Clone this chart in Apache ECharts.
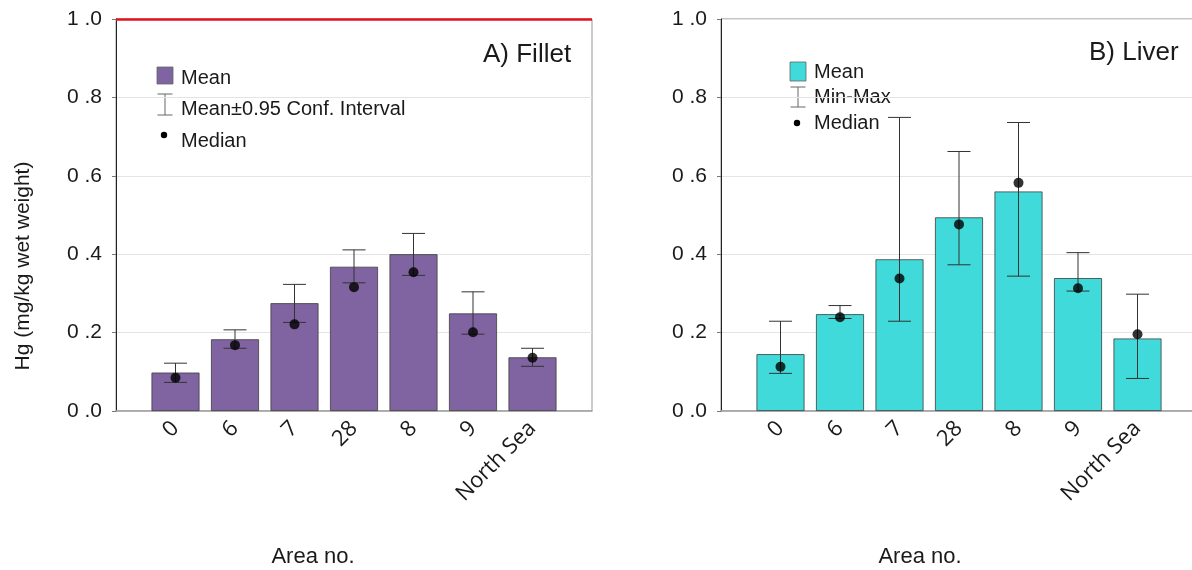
<!DOCTYPE html>
<html>
<head>
<meta charset="utf-8">
<script src="https://cdn.jsdelivr.net/npm/echarts@6/dist/echarts.min.js"></script>
<style>
html,body{margin:0;padding:0;background:#fff;}
#c{width:1192px;height:570px;}
</style>
</head>
<body>
<div id="c"></div>
<script>
const categories = ['0', '6', '7', '28', '8', '9', 'North Sea'];
const filletMean   = [0.098, 0.183, 0.275, 0.368, 0.400, 0.249, 0.137];
const filletCILow  = [0.073, 0.160, 0.226, 0.327, 0.346, 0.196, 0.114];
const filletCIHigh = [0.122, 0.207, 0.323, 0.411, 0.453, 0.304, 0.160];
const filletMedian = [0.085, 0.168, 0.221, 0.316, 0.354, 0.201, 0.136];
const liverMean    = [0.145, 0.247, 0.387, 0.494, 0.560, 0.339, 0.185];
const liverMin     = [0.096, 0.236, 0.229, 0.373, 0.344, 0.306, 0.083];
const liverMax     = [0.229, 0.269, 0.749, 0.662, 0.736, 0.404, 0.298];
const liverMedian  = [0.113, 0.239, 0.338, 0.476, 0.582, 0.313, 0.196];
const yTickLabels  = ['0 .0', '0 .2', '0 .4', '0 .6', '0 .8', '1 .0'];
const limitValue = 1.0;

const purple = '#8064a2';
const cyan = '#40dada';
const txt = '#1a1a1a';
const axisCats = [''].concat(categories, ['']);

function pairs(arr) { return arr.map((v, i) => [i + 1, v]); }
function ranges(lo, hi) { return lo.map((v, i) => [i + 1, v, hi[i]]); }

function errRender(params, api) {
  const x = api.value(0);
  const lo = api.coord([x, api.value(1)]);
  const hi = api.coord([x, api.value(2)]);
  const half = 11.5;
  const st = { stroke: '#333', lineWidth: 1 };
  return {
    type: 'group',
    children: [
      { type: 'line', shape: { x1: lo[0], y1: lo[1], x2: hi[0], y2: hi[1] }, style: st },
      { type: 'line', shape: { x1: lo[0] - half, y1: lo[1], x2: lo[0] + half, y2: lo[1] }, style: st },
      { type: 'line', shape: { x1: hi[0] - half, y1: hi[1], x2: hi[0] + half, y2: hi[1] }, style: st }
    ]
  };
}

function xAxisFor(gi) {
  return {
    type: 'category', gridIndex: gi, data: axisCats, boundaryGap: false,
    axisLine: { lineStyle: { color: '#a0a0a0', width: 1.5 } },
    axisTick: { inside: true, length: 5, lineStyle: { color: '#888' },
      interval: (idx) => idx > 0 && idx < axisCats.length - 1 },
    axisLabel: { interval: 0, rotate: 45, margin: 14, fontSize: 22,
      fontFamily: 'Open Sans', color: txt },
    splitLine: { show: false }
  };
}
function yAxisFor(gi) {
  return {
    type: 'value', gridIndex: gi, min: 0, max: 1, interval: 0.2,
    axisLine: { show: true, lineStyle: { color: '#222', width: 1 } },
    axisTick: { show: true, length: 4, lineStyle: { color: '#777' } },
    axisLabel: { fontSize: 21, fontFamily: 'Liberation Sans', color: txt, margin: 14,
      formatter: (v) => yTickLabels[Math.round(v / 0.2)] },
    splitLine: { show: true, lineStyle: { color: '#e4e4e4', width: 1 } }
  };
}

const chart = echarts.init(document.getElementById('c'), null, { renderer: 'canvas' });
const F = 'Liberation Sans';

function legendGraphics(x0, sqTop, sqBot, color, labels, ys, errTop, errBot, dotX, dotY) {
  const cx = x0 + 8;
  return [
    { type: 'rect', shape: { x: x0, y: sqTop, width: 16, height: sqBot - sqTop },
      style: { fill: color, stroke: '#666', lineWidth: 0.8 } },
    { type: 'line', shape: { x1: cx, y1: errTop, x2: cx, y2: errBot }, style: { stroke: '#666', lineWidth: 1 } },
    { type: 'line', shape: { x1: cx - 7.5, y1: errTop, x2: cx + 7.5, y2: errTop }, style: { stroke: '#666', lineWidth: 1 } },
    { type: 'line', shape: { x1: cx - 7.5, y1: errBot, x2: cx + 7.5, y2: errBot }, style: { stroke: '#666', lineWidth: 1 } },
    { type: 'circle', shape: { cx: dotX, cy: dotY, r: 3.2 }, style: { fill: '#000' } },
    { type: 'text', x: x0 + 24, y: ys[0], style: { text: labels[0], fontSize: 20, fontFamily: F, fill: txt, verticalAlign: 'middle' } },
    { type: 'text', x: x0 + 24, y: ys[1], style: { text: labels[1], fontSize: 20, fontFamily: F, fill: txt, verticalAlign: 'middle' } },
    { type: 'text', x: x0 + 24, y: ys[2], style: { text: labels[2], fontSize: 20, fontFamily: F, fill: txt, verticalAlign: 'middle' } }
  ];
}

const option = {
  animation: false,
  backgroundColor: '#fff',
  grid: [
    { left: 116, top: 19, width: 476, height: 392, show: true, borderColor: '#999', borderWidth: 1, outerBoundsMode: 'none', containLabel: false },
    { left: 721, top: 19, width: 476, height: 392, show: true, borderColor: '#888', borderWidth: 1, outerBoundsMode: 'none', containLabel: false }
  ],
  xAxis: [xAxisFor(0), xAxisFor(1)],
  yAxis: [yAxisFor(0), yAxisFor(1)],
  series: [
    { type: 'bar', xAxisIndex: 0, yAxisIndex: 0, data: pairs(filletMean), barWidth: 48,
      itemStyle: { color: purple, borderColor: '#3c3c3c', borderWidth: 0.8 },
      markLine: { silent: true, symbol: 'none', label: { show: false },
        lineStyle: { color: '#e3141c', width: 2.5, type: 'solid' }, data: [{ yAxis: limitValue }] } },
    { type: 'custom', xAxisIndex: 0, yAxisIndex: 0, data: ranges(filletCILow, filletCIHigh),
      renderItem: errRender, z: 5 },
    { type: 'scatter', xAxisIndex: 0, yAxisIndex: 0, data: pairs(filletMedian), symbolSize: 10,
      itemStyle: { color: '#000' }, z: 6 },
    { type: 'bar', xAxisIndex: 1, yAxisIndex: 1, data: pairs(liverMean), barWidth: 48,
      itemStyle: { color: cyan, borderColor: '#3c3c3c', borderWidth: 0.8 } },
    { type: 'custom', xAxisIndex: 1, yAxisIndex: 1, data: ranges(liverMin, liverMax),
      renderItem: errRender, z: 5 },
    { type: 'scatter', xAxisIndex: 1, yAxisIndex: 1, data: pairs(liverMedian), symbolSize: 10,
      itemStyle: { color: '#000' }, z: 6 }
  ],
  graphic: [].concat(
    legendGraphics(157, 67, 84, purple, ['Mean', 'Mean\u00b10.95 Conf. Interval', 'Median'], [78, 109, 141], 94, 115, 164, 135),
    legendGraphics(790, 62, 81, cyan, ['Mean', 'Min-Max', 'Median'], [72, 97, 123], 87, 107, 797, 123),
    [
      { type: 'text', x: 483, y: 55, style: { text: 'A) Fillet', fontSize: 26, fontFamily: F, fill: txt, verticalAlign: 'middle' } },
      { type: 'text', x: 1089, y: 53, style: { text: 'B) Liver', fontSize: 26, fontFamily: F, fill: txt, verticalAlign: 'middle' } },
      { type: 'text', x: 313, y: 557, style: { text: 'Area no.', fontSize: 22, fontFamily: F, fill: txt, align: 'center', verticalAlign: 'middle' } },
      { type: 'text', x: 920, y: 557, style: { text: 'Area no.', fontSize: 22, fontFamily: F, fill: txt, align: 'center', verticalAlign: 'middle' } },
      { type: 'text', x: 23, y: 266, rotation: Math.PI / 2,
        style: { text: 'Hg (mg/kg wet weight)', fontSize: 21, fontFamily: F, fill: txt, align: 'center', verticalAlign: 'middle' } }
    ]
  )
};
chart.setOption(option);
</script>
</body>
</html>
